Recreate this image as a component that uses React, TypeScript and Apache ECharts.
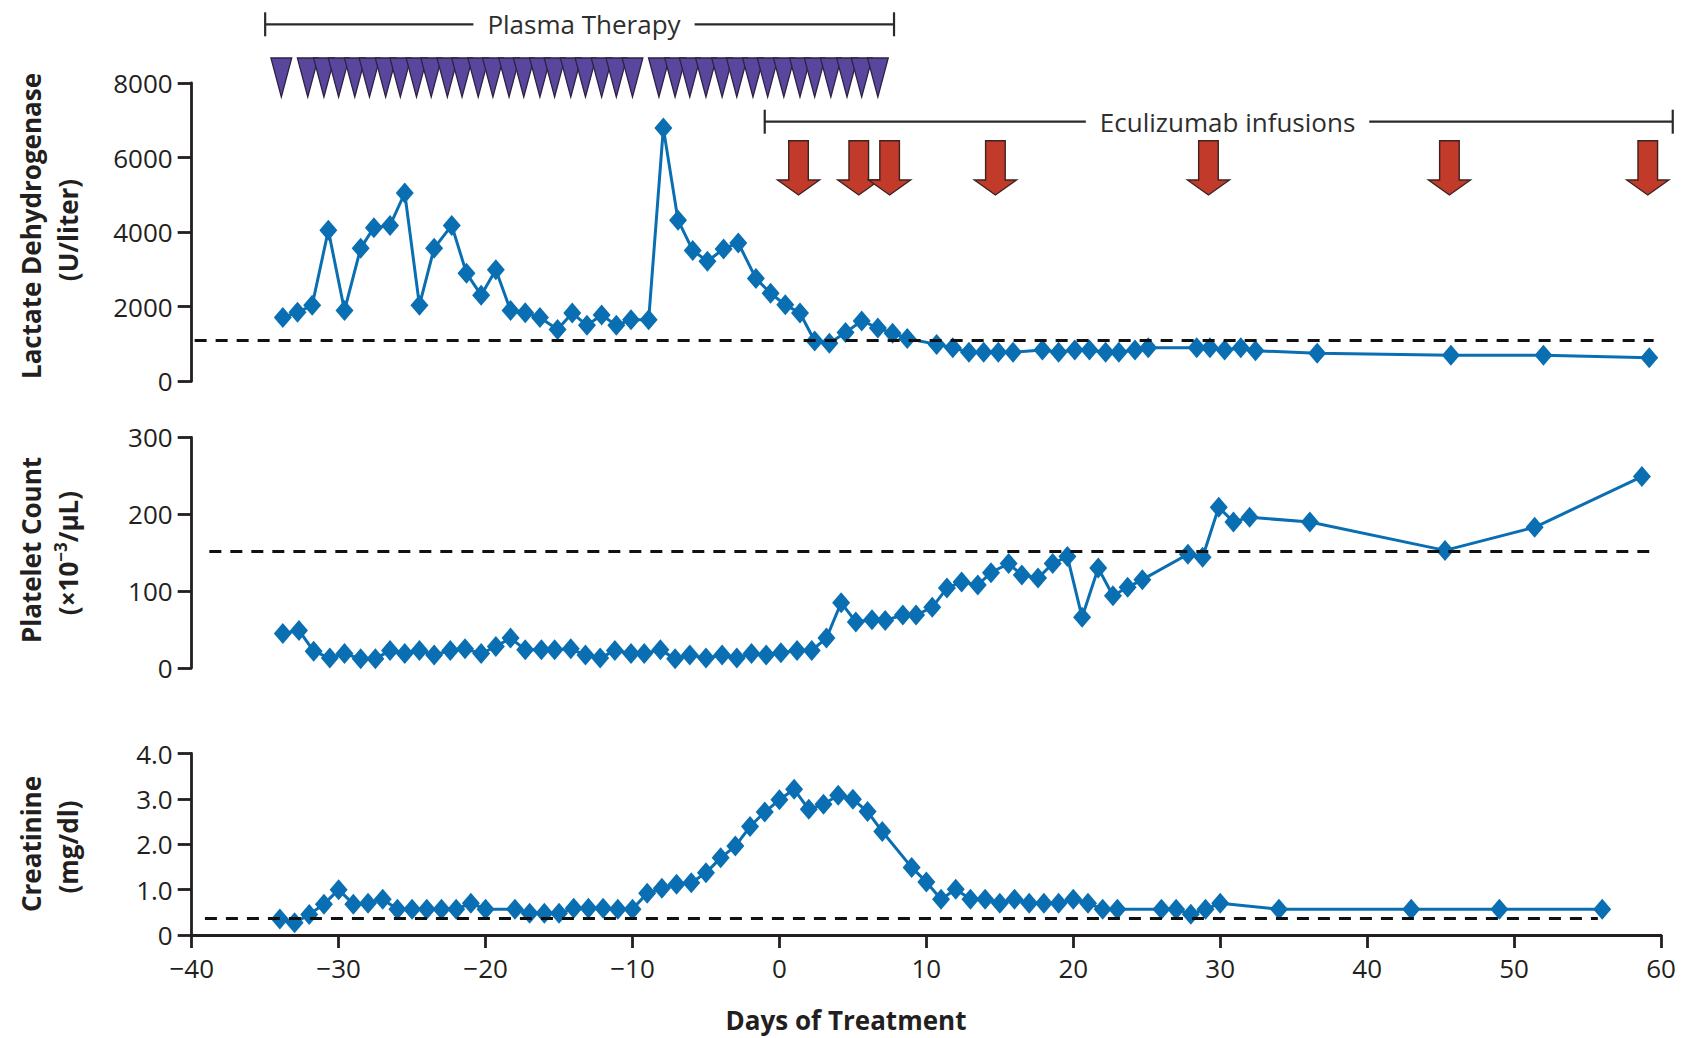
import { useEffect, useRef } from "react";
import * as echarts from "echarts";

// Lactate dehydrogenase (U/liter) by day of treatment
const ldhDays = [
  -33.8, -32.8, -31.8, -30.7, -29.6, -28.5, -27.6, -26.5, -25.5, -24.5, -23.5, -22.3, -21.3,
  -20.3, -19.3, -18.3, -17.3, -16.3, -15.1, -14.1, -13.1, -12.1, -11.1, -10.1, -8.9, -7.9,
  -6.9, -5.9, -4.9, -3.8, -2.8, -1.6, -0.6, 0.4, 1.4, 2.4, 3.4, 4.5, 5.6, 6.7, 7.7, 8.7,
  10.7, 11.8, 12.9, 13.9, 14.9, 15.9, 17.9, 19.0, 20.1, 21.1, 22.2, 23.1, 24.2, 25.1, 28.4,
  29.3, 30.3, 31.4, 32.4, 36.6, 45.7, 52.0, 59.2,
];
const ldhValues = [
  1710, 1850, 2040, 4050, 1900, 3570, 4120, 4180, 5050, 2040, 3570, 4180, 2900, 2310, 2990,
  1900, 1840, 1710, 1390, 1830, 1500, 1780, 1500, 1650, 1650, 6790, 4320, 3510, 3220, 3550,
  3710, 2760, 2360, 2050, 1830, 1080, 1020, 1310, 1620, 1430, 1290, 1150, 990, 900, 780, 780,
  780, 780, 840, 780, 840, 840, 780, 780, 840, 900, 900, 900, 840, 900, 820, 750, 700, 700, 630,
];

// Platelet count (x10^-3 per microliter)
const plateletDays = [
  -33.8, -32.7, -31.7, -30.6, -29.6, -28.5, -27.5, -26.5, -25.5, -24.5, -23.5, -22.4, -21.4,
  -20.3, -19.3, -18.3, -17.3, -16.2, -15.3, -14.2, -13.2, -12.2, -11.2, -10.1, -9.2, -8.1,
  -7.1, -6.1, -5.0, -3.9, -2.9, -1.9, -0.9, 0.1, 1.2, 2.2, 3.2, 4.2, 5.2, 6.3, 7.2, 8.4, 9.3,
  10.4, 11.4, 12.4, 13.5, 14.4, 15.6, 16.5, 17.6, 18.6, 19.6, 20.6, 21.7, 22.7, 23.7, 24.7,
  27.8, 28.8, 29.9, 30.9, 32.0, 36.1, 45.3, 51.4, 58.7,
];
const plateletValues = [
  45, 49, 22, 13, 19, 12, 12, 23, 19, 23, 17, 23, 25, 19, 28, 39, 24, 24, 24, 25, 17, 13, 23,
  19, 19, 24, 12, 17, 13, 17, 13, 19, 17, 20, 23, 23, 39, 85, 60, 63, 62, 69, 69, 79, 104, 112,
  108, 124, 136, 121, 117, 136, 145, 66, 130, 94, 105, 115, 148, 144, 209, 190, 196, 190, 153,
  183, 249,
];

// Creatinine (mg/dl)
const creatinineDays = [
  -34, -33, -32, -31, -30, -29, -28, -27, -26, -25, -24, -23, -22, -21, -20, -18, -17, -16,
  -15, -14, -13, -12, -11, -10, -9, -8, -7, -6, -5, -4, -3, -2, -1, 0, 1, 2, 3, 4, 5, 6, 7, 9,
  10, 11, 12, 13, 14, 15, 16, 17, 18, 19, 20, 21, 22, 23, 26, 27, 28, 29, 30, 34, 43, 49, 56,
];
const creatinineValues = [
  0.35, 0.27, 0.45, 0.68, 1.0, 0.68, 0.7, 0.79, 0.57, 0.57, 0.57, 0.57, 0.57, 0.7, 0.57, 0.57,
  0.48, 0.48, 0.48, 0.59, 0.59, 0.59, 0.57, 0.57, 0.92, 1.03, 1.12, 1.15, 1.37, 1.7, 1.96, 2.39,
  2.71, 2.98, 3.21, 2.77, 2.88, 3.08, 2.99, 2.72, 2.28, 1.49, 1.17, 0.79, 1.01, 0.79, 0.79, 0.7,
  0.79, 0.7, 0.7, 0.7, 0.79, 0.7, 0.57, 0.57, 0.57, 0.57, 0.46, 0.57, 0.7, 0.57, 0.57, 0.57, 0.57,
];

// Treatment events (days)
const plasmaDays = [
  -33.9, -32.1, -31.0, -30.0, -28.9, -27.9, -26.8, -25.8, -24.7, -23.7, -22.6, -21.6, -20.5,
  -19.5, -18.4, -17.4, -16.3, -15.3, -14.2, -13.2, -12.1, -11.1, -10.0, -8.2, -7.1, -6.1, -5.0,
  -3.9, -2.9, -1.8, -0.8, 0.3, 1.4, 2.4, 3.5, 4.6, 5.6, 6.7,
];
const eculizumabDays = [1.3, 5.4, 7.5, 14.7, 29.2, 45.6, 59.1];

// Treatment periods: [start day, end day, label day]
const periodLabels = ["Plasma Therapy", "Eculizumab infusions"];
const periodSpans = [
  [-35.0, 7.8, -13.3],
  [-1.0, 60.8, 30.5],
];

// Normal-range limits and the extent of their dashed lines
const ldhLimit = 1100;
const plateletLimit = 152;
const creatinineLimit = 0.37;
const ldhLimitSpan = [-39.8, 59.5];
const plateletLimitSpan = [-38.8, 59.2];
const creatinineLimitSpan = [-39.1, 55.7];

// Axis scales
const dayRange = [-40, 60, 10];
const ldhRange = [0, 8000, 2000];
const plateletRange = [0, 300, 100];
const creatinineRange = [0, 4, 1];

const BLUE = "#0a6fb2";
const INK = "#231f20";
const PURPLE = "#5a479d";
const RED = "#c23a2a";
const FONT = "'Open Sans', 'DejaVu Sans', sans-serif";

const pairs = (xs: number[], ys: number[]) => xs.map((x, i) => [x, ys[i]]);
const signed = (v: number) => (v < 0 ? "\u2212" + Math.abs(v) : String(v));

export default function App() {
  const ref = useRef<HTMLDivElement>(null);

  useEffect(() => {
    const chart = echarts.init(ref.current!, undefined, { renderer: "svg" });

    const gridBase = { left: 191.7, right: 28, outerBoundsMode: "none", containLabel: false };
    const grids = [
      { ...gridBase, top: 83, height: 298.3 },
      { ...gridBase, top: 437.3, height: 230.8 },
      { ...gridBase, top: 753.5, height: 181.5 },
    ];

    const xAxisFor = (gridIndex: number, visible: boolean) => ({
      type: "value",
      gridIndex,
      min: dayRange[0],
      max: dayRange[1],
      interval: dayRange[2],
      show: visible,
      axisLine: { show: true, onZero: false, lineStyle: { color: INK, width: 2.8 } },
      axisTick: { show: true, length: 13, lineStyle: { color: INK, width: 2.8 } },
      axisLabel: {
        show: true,
        margin: 20,
        fontSize: 26,
        fontFamily: FONT,
        color: INK,
        formatter: (v: number) => signed(v),
      },
      splitLine: { show: false },
    });

    const yAxisFor = (gridIndex: number, range: number[], fmt: (v: number) => string) => ({
      type: "value",
      gridIndex,
      min: range[0],
      max: range[1],
      interval: range[2],
      axisLine: { show: true, onZero: false, lineStyle: { color: INK, width: 2.8 } },
      axisTick: { show: true, length: 14, lineStyle: { color: INK, width: 2.8 } },
      axisLabel: { margin: 19, fontSize: 26, fontFamily: FONT, color: INK, formatter: fmt },
      splitLine: { show: false },
    });

    const limitLine = (value: number, span: number[]) => ({
      silent: true,
      symbol: ["none", "none"],
      label: { show: false },
      emphasis: { disabled: true },
      lineStyle: { color: "#111", width: 3, type: [12, 9] },
      data: [[{ coord: [span[0], value] }, { coord: [span[1], value] }]],
    });

    const lab = (gridIndex: number, data: number[][], value: number, span: number[]) => ({
      type: "line",
      xAxisIndex: gridIndex,
      yAxisIndex: gridIndex,
      data,
      symbol: "diamond",
      symbolSize: [18, 21],
      showSymbol: true,
      itemStyle: { color: BLUE },
      lineStyle: { color: BLUE, width: 3 },
      z: 4,
      markLine: limitLine(value, span),
    });

    const titleText = (x: number, y: number, text: string, extra: any = {}) => ({
      type: "text",
      x,
      y,
      rotation: Math.PI / 2,
      style: {
        text,
        fontSize: 26,
        fontWeight: "bold",
        fontFamily: FONT,
        fill: INK,
        align: "center",
        verticalAlign: "middle",
        ...extra,
      },
    });

    const option: any = {
      animation: false,
      backgroundColor: "#ffffff",
      grid: grids,
      xAxis: [xAxisFor(0, false), xAxisFor(1, false), xAxisFor(2, true)],
      yAxis: [
        yAxisFor(0, ldhRange, (v) => String(v)),
        yAxisFor(1, plateletRange, (v) => String(v)),
        yAxisFor(2, creatinineRange, (v) => (v === 0 ? "0" : v.toFixed(1))),
      ],
      series: [
        lab(0, pairs(ldhDays, ldhValues), ldhLimit, ldhLimitSpan),
        lab(1, pairs(plateletDays, plateletValues), plateletLimit, plateletLimitSpan),
        lab(2, pairs(creatinineDays, creatinineValues), creatinineLimit, creatinineLimitSpan),
        {
          // plasma therapy sessions
          type: "custom",
          xAxisIndex: 0,
          yAxisIndex: 0,
          clip: false,
          silent: true,
          z: 6,
          data: plasmaDays.map((d) => [d, 0]),
          encode: { x: 0, y: 1 },
          renderItem: (params: any, api: any) => {
            const x = api.coord([api.value(0), 0])[0];
            const top = params.coordSys.y;
            return {
              type: "polygon",
              shape: {
                points: [
                  [x - 10.4, top - 25],
                  [x + 10.4, top - 25],
                  [x, top + 14],
                ],
              },
              style: { fill: PURPLE, stroke: "#2b2342", lineWidth: 1.3 },
            };
          },
        },
        {
          // eculizumab infusions
          type: "custom",
          xAxisIndex: 0,
          yAxisIndex: 0,
          clip: false,
          silent: true,
          z: 6,
          data: eculizumabDays.map((d) => [d, 0]),
          encode: { x: 0, y: 1 },
          renderItem: (params: any, api: any) => {
            const x = api.coord([api.value(0), 0])[0];
            const top = params.coordSys.y;
            const y0 = top + 57.7;
            const y1 = top + 97;
            const y2 = top + 112;
            return {
              type: "polygon",
              shape: {
                points: [
                  [x - 9.8, y0],
                  [x + 9.8, y0],
                  [x + 9.8, y1],
                  [x + 21, y1],
                  [x, y2],
                  [x - 21, y1],
                  [x - 9.8, y1],
                ],
              },
              style: { fill: RED, stroke: "#3b2420", lineWidth: 1.4 },
            };
          },
        },
        {
          // treatment period brackets
          type: "custom",
          xAxisIndex: 0,
          yAxisIndex: 0,
          clip: false,
          silent: true,
          z: 7,
          data: periodSpans.map((s) => [s[0], s[1], s[2], 0]),
          encode: { x: [0, 1, 2], y: 3 },
          renderItem: (params: any, api: any) => {
            const top = params.coordSys.y;
            const offsets = [-58.7, 38.7];
            const y = top + offsets[params.dataIndex];
            const x1 = api.coord([api.value(0), 0])[0];
            const x2 = api.coord([api.value(1), 0])[0];
            const xt = api.coord([api.value(2), 0])[0];
            const stroke = { stroke: "#2a2a2a", lineWidth: 2.2 };
            return {
              type: "group",
              children: [
                { type: "line", shape: { x1, y1: y, x2, y2: y }, style: stroke },
                { type: "line", shape: { x1, y1: y - 12, x2: x1, y2: y + 12 }, style: stroke },
                { type: "line", shape: { x1: x2, y1: y - 12, x2, y2: y + 12 }, style: stroke },
                {
                  type: "text",
                  x: xt,
                  y,
                  style: {
                    text: periodLabels[params.dataIndex],
                    fontSize: 26,
                    fontFamily: FONT,
                    fill: "#2e2e2e",
                    align: "center",
                    verticalAlign: "middle",
                    backgroundColor: "#ffffff",
                    padding: [2, 14],
                  },
                },
              ],
            };
          },
        },
      ],
      graphic: [
        titleText(31, 226, "Lactate Dehydrogenase"),
        titleText(68, 230, "(U/liter)"),
        titleText(31, 550, "Platelet Count"),
        titleText(68, 553, "{a|(\u00d710}{s|\u22123}{a|/\u03bcL)}", {
          rich: {
            a: { fontSize: 26, fontWeight: "bold", fontFamily: FONT, fill: INK, lineHeight: 32 },
            s: {
              fontSize: 17,
              fontWeight: "bold",
              fontFamily: FONT,
              fill: INK,
              verticalAlign: "top",
              lineHeight: 20,
            },
          },
        }),
        titleText(31, 844, "Creatinine"),
        titleText(68, 847, "(mg/dl)"),
        {
          type: "text",
          x: 846,
          y: 1020,
          style: {
            text: "Days of Treatment",
            fontSize: 26,
            fontWeight: "bold",
            fontFamily: FONT,
            fill: INK,
            align: "center",
            verticalAlign: "middle",
          },
        },
      ],
    };

    chart.setOption(option);
    return () => chart.dispose();
  }, []);

  return (
    <div
      ref={ref}
      style={{ position: "absolute", left: 0, top: 0, width: 1689, height: 1038, background: "#fff" }}
    />
  );
}
